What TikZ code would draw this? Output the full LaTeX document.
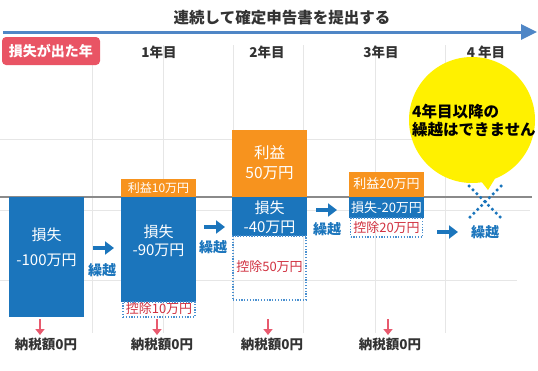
\documentclass[tikz,border=0pt]{standalone}
\usepackage{fontspec}
\setmainfont{Noto Sans CJK JP}
\usetikzlibrary{arrows.meta}
\definecolor{lossblue}{HTML}{1B75BC}
\definecolor{gainorange}{HTML}{F7931E}
\definecolor{labred}{HTML}{E95464}
\definecolor{pinkarrow}{HTML}{E85A6E}
\definecolor{redtext}{HTML}{D0303F}
\definecolor{bubble}{HTML}{FFF100}
\definecolor{titleblue}{HTML}{4F86C6}
\definecolor{darktext}{HTML}{333333}
\definecolor{gridgray}{HTML}{E6E6E6}
\definecolor{axisgray}{HTML}{8A8A8A}
\definecolor{dotblue}{HTML}{4A90D0}
\tikzset{
  boxA/.style={fill=lossblue, draw=none, inner sep=0pt, minimum width=75pt},
  gainbox/.style={fill=gainorange, draw=none, inner sep=0pt, minimum width=75pt},
  dedbox/.style={draw=dotblue, line width=1.3pt, dash pattern=on 1.2pt off 1.6pt, inner sep=0pt},
  wtext/.style={text=white, align=center, inner sep=0pt},
  rtext/.style={text=redtext, inner sep=0pt, font=\fontsize{13}{15}\selectfont},
  carry/.style={text=lossblue, inner sep=0pt, font=\bfseries\fontsize{14}{16}\selectfont},
  carryarrow/.style={draw=lossblue, line width=4pt, -{Triangle[length=9pt,width=13pt]}},
  taxarrow/.style={draw=pinkarrow, line width=2pt, -{Triangle[length=6pt,width=9pt]}},
  taxlabel/.style={text=darktext, inner sep=0pt, font=\bfseries\fontsize{13.5}{15}\selectfont},
  yearlabel/.style={text=darktext, inner sep=0pt, font=\bfseries\fontsize{13.5}{15}\selectfont},
  gridline/.style={draw=gridgray, line width=0.8pt}
}
\begin{document}
\begin{tikzpicture}[x=1pt,y=-1pt]
\useasboundingbox (0,0) rectangle (538,370);
% grid
\foreach \gx in {92,163,233,303,375,445} {
  \draw[gridline] (\gx,45) -- (\gx,333);
}
\draw[gridline] (0,139) -- (530,139);
\draw[gridline] (0,210) -- (530,210);
\draw[gridline] (0,280) -- (517,280);
% axis line
\draw[draw=axisgray, line width=2pt] (0,197) -- (532,197);
% title arrow
\coordinate (tl) at (3,32);
\coordinate (tr) at (537,32);
\draw[draw=titleblue, line width=3pt, -{Triangle[length=16pt,width=15pt]}] (tl) -- (tr);
\node[text=darktext, inner sep=0pt, font=\bfseries\fontsize{15.5}{17}\selectfont] (title) at (282,18) {連続して確定申告書を提出する};
% loss year label
\node[fill=labred, rounded corners=4pt, minimum width=98pt, minimum height=28pt, inner sep=0pt, text=white, font=\bfseries\fontsize{14}{16}\selectfont] (lossyear) at (51,51) {損失が出た年};
% year labels
\node[yearlabel] (y1) at (159,52) {1年目};
\node[yearlabel] (y2) at (267,52) {2年目};
\node[yearlabel] (y3) at (381,52) {3年目};
\node[yearlabel] (y4) at (486,52) {4 年目};
% yellow bubble
\fill[bubble] (472,120) circle (63pt);
\fill[bubble] (477,176) -- (499,172) -- (488,190) -- cycle;
\node[anchor=west, align=left, text=black, inner sep=0pt, font=\bfseries\fontsize{15.5}{18}\selectfont] (bubtext) at (412,121) {4年目以降の\\繰越はできません};
% Box A
\node[boxA, minimum height=120pt] (A) at (46.5,257) {};
\node[wtext, font=\fontsize{15}{25}\selectfont] (Atext) at (46.5,247) {損失\\-100万円};
% Box B
\node[gainbox, minimum height=18pt] (Bg) at (158.5,188) {};
\node[wtext, font=\fontsize{12}{14}\selectfont] (Bgtext) at (158.5,188) {利益10万円};
\node[boxA, minimum height=105pt] (B) at (158.5,249.5) {};
\node[wtext, font=\fontsize{15}{18}\selectfont] (Btext) at (158.5,240.5) {損失\\-90万円};
\node[dedbox, minimum width=72pt, minimum height=15pt] (Bd) at (159,309.5) {};
\node[rtext] (Bdtext) at (159,308.5) {控除10万円};
% Box C
\node[gainbox, minimum height=67pt] (Cg) at (269.5,163.5) {};
\node[wtext, font=\fontsize{15.5}{20}\selectfont] (Cgtext) at (269.5,163) {利益\\50万円};
\node[boxA, minimum height=39pt] (C) at (269.5,216.5) {};
\node[wtext, font=\fontsize{15}{19}\selectfont] (Ctext) at (269.5,217.5) {損失\\-40万円};
\node[dedbox, minimum width=73pt, minimum height=64pt] (Cd) at (269.5,268) {};
\node[rtext] (Cdtext) at (269.5,267) {控除50万円};
% Box D
\node[gainbox, minimum height=25pt] (Dg) at (386.5,184.5) {};
\node[wtext, font=\fontsize{13}{15}\selectfont] (Dgtext) at (386.5,184) {利益20万円};
\node[boxA, minimum height=21pt] (D) at (386.5,207.5) {};
\node[wtext, font=\fontsize{13}{15}\selectfont] (Dtext) at (386.5,207.5) {損失-20万円};
\node[dedbox, minimum width=72pt, minimum height=19pt] (Dd) at (386.5,227.5) {};
\node[rtext] (Ddtext) at (386.5,227.5) {控除20万円};
% carry arrows
\coordinate (c1s) at (93,248); \coordinate (c1e) at (114,248);
\draw[carryarrow] (c1s) -- (c1e);
\node[carry] (k1) at (102,270) {繰越};
\coordinate (c2s) at (204,227); \coordinate (c2e) at (225,227);
\draw[carryarrow] (c2s) -- (c2e);
\node[carry] (k2) at (213,247) {繰越};
\coordinate (c3s) at (316,210); \coordinate (c3e) at (337,210);
\draw[carryarrow] (c3s) -- (c3e);
\node[carry] (k3) at (327,229) {繰越};
\coordinate (c4s) at (437,232); \coordinate (c4e) at (458,232);
\draw[carryarrow] (c4s) -- (c4e);
\node[carry] (k4) at (485,232) {繰越};
% dotted X
\coordinate (xa) at (469,186); \coordinate (xb) at (501,218);
\coordinate (xc) at (501,186); \coordinate (xd) at (469,218);
\draw[draw=lossblue, line width=3.5pt, line cap=round, dash pattern=on 0pt off 5.5pt] (xa) -- (xb);
\draw[draw=lossblue, line width=3.5pt, line cap=round, dash pattern=on 0pt off 5.5pt] (xc) -- (xd);
% tax arrows and labels
\foreach \ax/\lx/\nm in {40/46/t1, 157/162/t2, 268/272/t3, 388/390/t4} {
  \coordinate (\nm s) at (\ax,319);
  \coordinate (\nm e) at (\ax,335);
  \draw[taxarrow] (\nm s) -- (\nm e);
  \node[taxlabel] (\nm label) at (\lx,344) {納税額0円};
}
\end{tikzpicture}
\end{document}
